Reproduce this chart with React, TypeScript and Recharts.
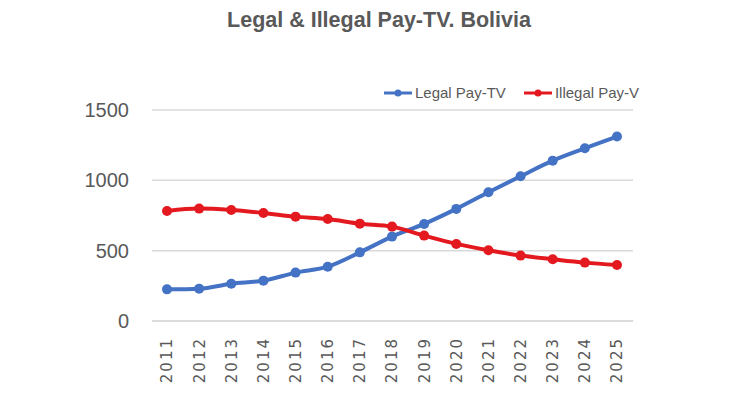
import React from 'react';
import { LineChart, Line, XAxis, YAxis, CartesianGrid } from 'recharts';

const YEARS = ['2011', '2012', '2013', '2014', '2015', '2016', '2017', '2018', '2019', '2020', '2021', '2022', '2023', '2024', '2025'];
const LEGAL = [225, 230, 265, 287, 344, 386, 488, 600, 690, 797, 915, 1029, 1140, 1228, 1311];
const ILLEGAL = [782, 799, 789, 768, 742, 725, 692, 671, 607, 548, 503, 465, 439, 415, 398];
const Y_TICKS = [0, 500, 1000, 1500];

const BLUE = '#4472c4';
const RED = '#e3191f';
const GREY = '#595959';

const data = YEARS.map((year, i) => ({ year, legal: LEGAL[i], illegal: ILLEGAL[i] }));

const SERIES = [
  { name: 'Legal Pay-TV', color: BLUE },
  { name: 'Illegal Pay-V', color: RED },
];

function YearTick({ x, y, payload }: any) {
  return (
    <text
      transform={`translate(${x},${y + 14}) rotate(-90)`}
      textAnchor="end"
      dy="0.36em"
      fill={GREY}
      fontFamily="DejaVu Sans"
      fontSize={15}
      letterSpacing={2}
    >
      {payload.value}
    </text>
  );
}

function LegendBox() {
  return (
    <div
      style={{
        position: 'absolute',
        top: 84,
        left: 384,
        display: 'flex',
        alignItems: 'center',
        fontFamily: 'Liberation Sans',
        fontSize: 15,
        color: GREY,
      }}
    >
      {SERIES.map((s, i) => (
        <div key={s.name} style={{ display: 'flex', alignItems: 'center', marginLeft: i ? 18 : 0 }}>
          <svg width={28} height={10} style={{ marginRight: 3 }}>
            <line x1={0} y1={5} x2={28} y2={5} stroke={s.color} strokeWidth={3} />
            <circle cx={14} cy={5} r={3.5} fill={s.color} />
          </svg>
          <span>{s.name}</span>
        </div>
      ))}
    </div>
  );
}

export default function App() {
  return (
    <div style={{ position: 'absolute', left: 0, top: 0, width: 750, height: 400, background: '#fff' }}>
      <div
        style={{
          position: 'absolute',
          top: 9,
          left: 4,
          width: 750,
          textAlign: 'center',
          fontFamily: 'Liberation Sans',
          fontWeight: 'bold',
          fontSize: 21.5,
          lineHeight: '22px',
          color: GREY,
        }}
      >
        Legal &amp; Illegal Pay-TV. Bolivia
      </div>
      <LineChart width={750} height={400} data={data} margin={{ top: 110, right: 117, left: 92, bottom: 0 }}>
        <CartesianGrid vertical={false} stroke="#d9d9d9" strokeWidth={1.5} />
        <XAxis
          dataKey="year"
          axisLine={{ stroke: '#d9d9d9', strokeWidth: 1.5 }}
          tickLine={false}
          tickSize={0}
          tick={<YearTick />}
          interval={0}
          height={79}
          padding={{ left: 15, right: 16 }}
        />
        <YAxis
          domain={[0, 1500]}
          ticks={Y_TICKS}
          axisLine={false}
          tickLine={false}
          tickSize={0}
          tickMargin={23}
          width={60}
          tick={{ fill: GREY, fontSize: 20, fontFamily: 'Liberation Sans' }}
        />
        <Line
          name="Legal Pay-TV"
          type="monotone"
          dataKey="legal"
          stroke={BLUE}
          strokeWidth={4}
          dot={{ r: 5, fill: BLUE, stroke: BLUE, strokeWidth: 0 }}
          isAnimationActive={false}
        />
        <Line
          name="Illegal Pay-V"
          type="monotone"
          dataKey="illegal"
          stroke={RED}
          strokeWidth={4}
          dot={{ r: 5, fill: RED, stroke: RED, strokeWidth: 0 }}
          isAnimationActive={false}
        />
      </LineChart>
      <LegendBox />
    </div>
  );
}
